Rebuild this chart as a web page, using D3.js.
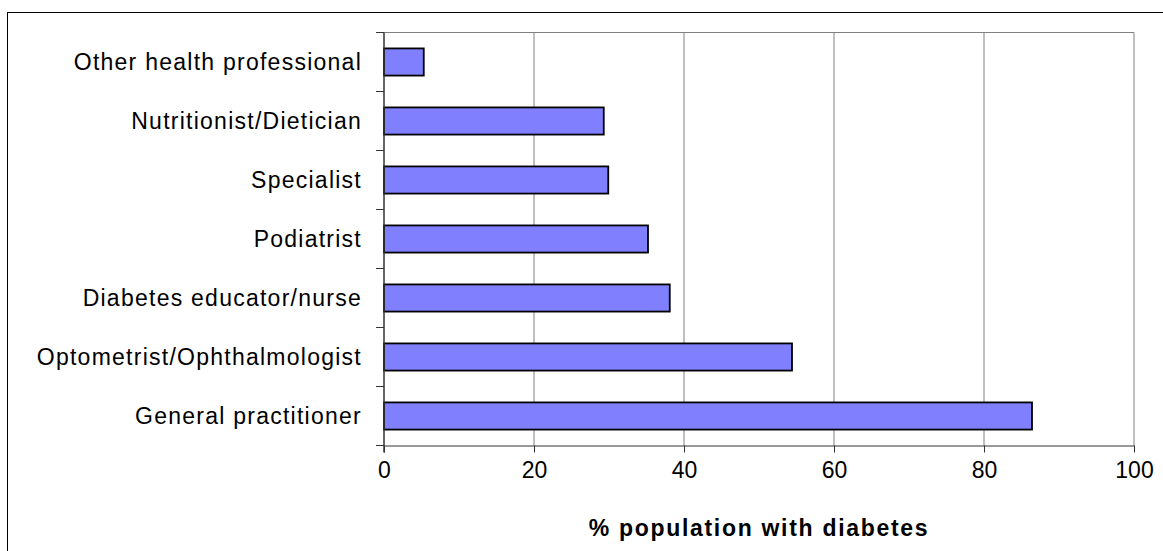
<!DOCTYPE html>
<html>
<head>
<meta charset="utf-8">
<script src="https://cdn.jsdelivr.net/npm/d3@7"></script>
<style>
  html, body { margin: 0; padding: 0; background: #fff; }
  svg { display: block; font-family: "Liberation Sans", Arial, sans-serif; }
</style>
</head>
<body>
<svg id="chart" width="1163" height="551"></svg>
<script>
// Health professionals consulted by people with diabetes
const categories = [
  "Other health professional",
  "Nutritionist/Dietician",
  "Specialist",
  "Podiatrist",
  "Diabetes educator/nurse",
  "Optometrist/Ophthalmologist",
  "General practitioner"
];
const values = [5.3, 29.3, 29.9, 35.2, 38.1, 54.4, 86.4];
const xTicks = [0, 20, 40, 60, 80, 100];
const xTitle = "% population with diabetes";

const svg = d3.select("#chart");
const W = 1163, H = 551;
const plot = { left: 384, right: 1134, top: 32.5, bottom: 445.5 };
const fontSize = 23;

// outer frame
svg.append("rect")
  .attr("x", 7.5).attr("y", 12.5)
  .attr("width", W + 10).attr("height", H + 10)
  .attr("fill", "#fff").attr("stroke", "#000").attr("stroke-width", 1);

const x = d3.scaleLinear().domain([0, 100]).range([plot.left, plot.right]);
const y = d3.scaleBand().domain(categories).range([plot.top, plot.bottom])
  .paddingInner(0.54).paddingOuter(0.27);

// gridlines
svg.append("g")
  .selectAll("line")
  .data(xTicks.filter(d => d > 0))
  .join("line")
  .attr("x1", d => x(d)).attr("x2", d => x(d))
  .attr("y1", plot.top).attr("y2", plot.bottom)
  .attr("stroke", "#808080").attr("stroke-width", 1);

// top edge of plot area
svg.append("line")
  .attr("x1", plot.left).attr("x2", plot.right)
  .attr("y1", plot.top).attr("y2", plot.top)
  .attr("stroke", "#808080").attr("stroke-width", 1);

// bars
svg.append("g")
  .selectAll("rect")
  .data(categories)
  .join("rect")
  .attr("x", x(0))
  .attr("y", d => y(d))
  .attr("width", (d, i) => x(values[i]) - x(0))
  .attr("height", y.bandwidth())
  .attr("fill", "#8080ff")
  .attr("stroke", "#000")
  .attr("stroke-width", 1.8);

// x axis
const xAxis = svg.append("g")
  .attr("transform", `translate(0,${plot.bottom})`)
  .call(d3.axisBottom(x).tickValues(xTicks).tickSize(7).tickPadding(9).tickSizeOuter(0));
xAxis.select(".domain").attr("stroke", "#333");
xAxis.selectAll(".tick line").attr("stroke", "#333");
xAxis.selectAll("text").attr("font-size", fontSize).attr("fill", "#000")
  .attr("font-family", "Liberation Sans, Arial, sans-serif");

// y axis: ticks at band boundaries, labels at band centres
const boundaries = d3.range(categories.length + 1).map(i => plot.top + i * y.step());
const yAxis = svg.append("g");
yAxis.append("line")
  .attr("x1", plot.left).attr("x2", plot.left)
  .attr("y1", plot.top).attr("y2", plot.bottom + 7)
  .attr("stroke", "#333").attr("stroke-width", 1.5);
yAxis.selectAll("line.tk")
  .data(boundaries)
  .join("line").attr("class", "tk")
  .attr("x1", plot.left - 8).attr("x2", plot.left)
  .attr("y1", d => d).attr("y2", d => d)
  .attr("stroke", "#333");
yAxis.selectAll("text")
  .data(categories)
  .join("text")
  .attr("x", 362)
  .attr("y", d => y(d) + y.bandwidth() / 2)
  .attr("dy", "0.35em")
  .attr("text-anchor", "end")
  .attr("font-size", fontSize)
  .attr("letter-spacing", 1.25)
  .attr("fill", "#000")
  .text(d => d);

// axis title
svg.append("text")
  .attr("x", (plot.left + plot.right) / 2)
  .attr("y", 536)
  .attr("text-anchor", "middle")
  .attr("font-size", fontSize)
  .attr("font-weight", "bold")
  .attr("letter-spacing", 1.7)
  .attr("fill", "#000")
  .text(xTitle);
</script>
</body>
</html>
